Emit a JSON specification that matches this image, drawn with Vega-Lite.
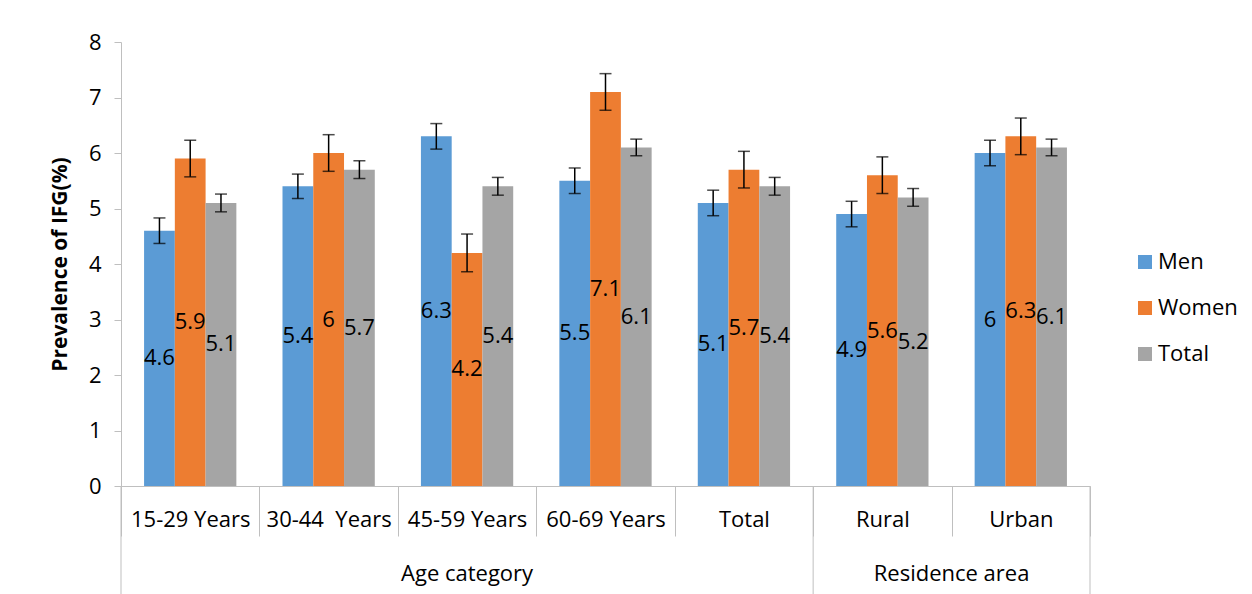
{
  "$schema": "https://vega.github.io/schema/vega-lite/v6.json",
  "width": 969,
  "height": 444,
  "autosize": {"type": "none"},
  "padding": {"left": 121, "top": 42, "right": 162, "bottom": 108},
  "background": "white",
  "config": {"font": "Open Sans", "view": {"stroke": null}},
  "datasets": {
    "bars": [
      {"cat": "15-29 Years", "series": "Men", "value": 4.6, "lo": 4.37, "hi": 4.83},
      {"cat": "15-29 Years", "series": "Women", "value": 5.9, "lo": 5.57, "hi": 6.23},
      {"cat": "15-29 Years", "series": "Total", "value": 5.1, "lo": 4.94, "hi": 5.26},
      {"cat": "30-44\u00a0 Years", "series": "Men", "value": 5.4, "lo": 5.18, "hi": 5.62},
      {"cat": "30-44\u00a0 Years", "series": "Women", "value": 6.0, "lo": 5.67, "hi": 6.33},
      {"cat": "30-44\u00a0 Years", "series": "Total", "value": 5.7, "lo": 5.54, "hi": 5.86},
      {"cat": "45-59 Years", "series": "Men", "value": 6.3, "lo": 6.07, "hi": 6.53},
      {"cat": "45-59 Years", "series": "Women", "value": 4.2, "lo": 3.86, "hi": 4.54},
      {"cat": "45-59 Years", "series": "Total", "value": 5.4, "lo": 5.24, "hi": 5.56},
      {"cat": "60-69 Years", "series": "Men", "value": 5.5, "lo": 5.27, "hi": 5.73},
      {"cat": "60-69 Years", "series": "Women", "value": 7.1, "lo": 6.77, "hi": 7.43},
      {"cat": "60-69 Years", "series": "Total", "value": 6.1, "lo": 5.95, "hi": 6.25},
      {"cat": "Total", "series": "Men", "value": 5.1, "lo": 4.87, "hi": 5.33},
      {"cat": "Total", "series": "Women", "value": 5.7, "lo": 5.37, "hi": 6.03},
      {"cat": "Total", "series": "Total", "value": 5.4, "lo": 5.24, "hi": 5.56},
      {"cat": "Rural", "series": "Men", "value": 4.9, "lo": 4.67, "hi": 5.13},
      {"cat": "Rural", "series": "Women", "value": 5.6, "lo": 5.27, "hi": 5.93},
      {"cat": "Rural", "series": "Total", "value": 5.2, "lo": 5.04, "hi": 5.36},
      {"cat": "Urban", "series": "Men", "value": 6.0, "lo": 5.77, "hi": 6.23},
      {"cat": "Urban", "series": "Women", "value": 6.3, "lo": 5.97, "hi": 6.63},
      {"cat": "Urban", "series": "Total", "value": 6.1, "lo": 5.95, "hi": 6.25}
    ],
    "groups": [
      {"group": "Age category", "cat": "45-59 Years"},
      {"group": "Residence area", "cat": "Urban"}
    ],
    "edges": [
      {"cat": "15-29 Years", "side": "start"},
      {"cat": "Rural", "side": "start"},
      {"cat": "Urban", "side": "end"}
    ]
  },
  "layer": [
    {
      "layer": [
        {
          "data": {"name": "bars"},
          "mark": {"type": "bar"},
          "encoding": {
            "x": {
              "field": "cat", "type": "nominal",
              "scale": {"domain": ["15-29 Years", "30-44\u00a0 Years", "45-59 Years", "60-69 Years", "Total", "Rural", "Urban"], "paddingInner": 0, "paddingOuter": 0},
              "axis": {"title": null, "labelAngle": 0, "labelFontSize": 22, "labelColor": "black", "labelPadding": -27, "tickBand": "extent", "tickSize": 50, "tickColor": "#bfbfbf", "domainColor": "#bfbfbf"}
            },
            "xOffset": {"field": "series", "type": "nominal", "scale": {"domain": ["Men", "Women", "Total"], "paddingInner": 0, "paddingOuter": 0.75}},
            "y": {
              "field": "value", "type": "quantitative",
              "scale": {"domain": [0, 8], "nice": false},
              "axis": {"title": "Prevalence of IFG(%)", "titleFontSize": 21, "titleFontWeight": "bold", "titleColor": "black", "titlePadding": 18, "grid": false, "values": [0, 1, 2, 3, 4, 5, 6, 7, 8], "format": "d", "labelFontSize": 22, "labelColor": "black", "tickSize": 7, "labelPadding": 13, "tickColor": "#bfbfbf", "domainColor": "#bfbfbf"}
            },
            "color": {
              "field": "series", "type": "nominal",
              "scale": {"domain": ["Men", "Women", "Total"], "range": ["#5b9bd5", "#ed7d31", "#a5a5a5"]},
              "legend": {"title": null, "orient": "none", "legendX": 1013, "legendY": 209, "symbolType": "square", "symbolSize": 196, "symbolStrokeWidth": 0, "labelFontSize": 22, "labelColor": "black", "rowPadding": 24, "labelOffset": 2}
            }
          }
        },
        {
          "data": {"name": "bars"},
          "mark": {"type": "rule", "color": "black", "strokeWidth": 1.5},
          "encoding": {
            "x": {"field": "cat", "type": "nominal"},
            "xOffset": {"field": "series", "type": "nominal"},
            "y": {"field": "lo", "type": "quantitative"},
            "y2": {"field": "hi"}
          }
        },
        {
          "data": {"name": "bars"},
          "mark": {"type": "tick", "color": "black", "size": 12, "thickness": 1.5},
          "encoding": {
            "x": {"field": "cat", "type": "nominal"},
            "xOffset": {"field": "series", "type": "nominal"},
            "y": {"field": "lo", "type": "quantitative"}
          }
        },
        {
          "data": {"name": "bars"},
          "mark": {"type": "tick", "color": "black", "size": 12, "thickness": 1.5},
          "encoding": {
            "x": {"field": "cat", "type": "nominal"},
            "xOffset": {"field": "series", "type": "nominal"},
            "y": {"field": "hi", "type": "quantitative"}
          }
        },
        {
          "data": {"name": "groups"},
          "transform": [{"filter": "datum.group === 'Age category'"}],
          "mark": {"type": "text", "fontSize": 22, "color": "black", "baseline": "middle"},
          "encoding": {
            "x": {"field": "cat", "type": "nominal", "bandPosition": 0.5},
            "y": {"datum": -1.58, "type": "quantitative"},
            "text": {"field": "group"}
          }
        },
        {
          "data": {"name": "groups"},
          "transform": [{"filter": "datum.group === 'Residence area'"}],
          "mark": {"type": "text", "fontSize": 22, "color": "black", "baseline": "middle"},
          "encoding": {
            "x": {"field": "cat", "type": "nominal", "bandPosition": 0},
            "y": {"datum": -1.58, "type": "quantitative"},
            "text": {"field": "group"}
          }
        },
        {
          "data": {"name": "edges"},
          "transform": [{"filter": "datum.side === 'start'"}],
          "mark": {"type": "rule", "color": "#bfbfbf", "strokeWidth": 1},
          "encoding": {
            "x": {"field": "cat", "type": "nominal", "bandPosition": 0},
            "y": {"datum": 0, "type": "quantitative"},
            "y2": {"datum": -1.95}
          }
        },
        {
          "data": {"name": "edges"},
          "transform": [{"filter": "datum.side === 'end'"}],
          "mark": {"type": "rule", "color": "#bfbfbf", "strokeWidth": 1},
          "encoding": {
            "x": {"field": "cat", "type": "nominal", "bandPosition": 1},
            "y": {"datum": 0, "type": "quantitative"},
            "y2": {"datum": -1.95}
          }
        }
      ]
    },
    {
      "data": {"name": "bars"},
      "mark": {"type": "text", "fontSize": 22, "color": "black", "baseline": "middle"},
      "encoding": {
        "x": {"field": "cat", "type": "nominal"},
        "xOffset": {"field": "series", "type": "nominal"},
        "y": {"field": "value", "type": "quantitative", "scale": {"domain": [0, 16], "nice": false}, "axis": null},
        "text": {"field": "value", "type": "quantitative"}
      }
    }
  ],
  "resolve": {"scale": {"y": "independent"}}
}
